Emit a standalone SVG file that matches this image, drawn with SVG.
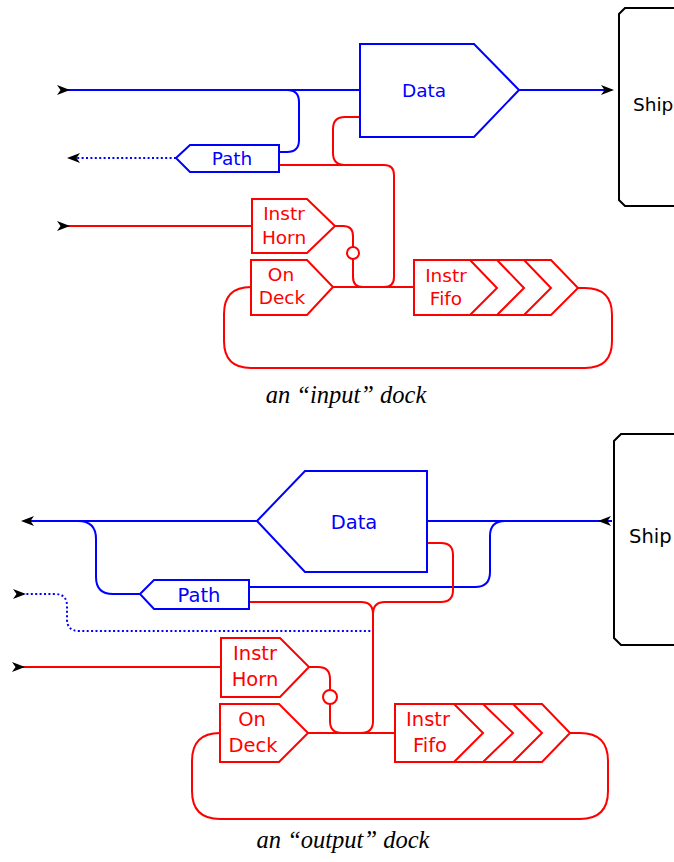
<svg xmlns="http://www.w3.org/2000/svg" xmlns:xlink="http://www.w3.org/1999/xlink" width="674" height="862" viewBox="0 0 674 862">
<defs>
<style>
.b{fill:none;stroke:#0000ff;stroke-width:2}
.r{fill:none;stroke:#ff0000;stroke-width:2}
.k{fill:none;stroke:#000;stroke-width:2}
.d{fill:none;stroke:#0000ff;stroke-width:2;stroke-dasharray:2 2.4}
.nb{fill:#fff;stroke:#0000ff;stroke-width:2}
.nr{fill:#fff;stroke:#ff0000;stroke-width:2}
.tb{font-family:"DejaVu Sans",sans-serif;fill:#0000ff;text-anchor:middle}
.tr{font-family:"DejaVu Sans",sans-serif;fill:#ff0000;text-anchor:middle}
.tk{font-family:"DejaVu Sans",sans-serif;fill:#000}
.s1{font-size:18.5px}
.s2{font-size:19.5px}
.cap{font-family:"Liberation Serif",serif;font-style:italic;font-size:24.5px;fill:#000;text-anchor:middle}
</style>
<path id="ah" d="M0,0 L-13,-5 L-9.5,0 L-13,5 Z" fill="#000"/>
</defs>

<!-- ===== input dock ===== -->
<g id="connectors-input">
<path class="b" d="M66,90 H360"/>
<path class="b" d="M287,90 Q299,90 299,102 V140 Q299,152 287,152 H279"/>
<path class="b" d="M519,90 H612"/>
<path class="d" d="M176,158 H72"/>
<path class="r" d="M66,226 H252"/>
<path class="r" d="M335,226 H343 Q353,226 353,236 V247"/>
<circle class="r" cx="353" cy="253" r="6"/>
<path class="r" d="M353,259 V277 Q353,287 363,287"/>
<path class="r" d="M333,287 H414"/>
<path class="r" d="M279,165 H384 Q394,165 394,175 V277 Q394,287 384,287"/>
<path class="r" d="M360,117 H345 Q333,117 333,129 V153 Q333,165 345,165"/>
<path class="r" d="M251,287 Q224,287 224,314 V341 Q224,368 251,368 H585 Q612,368 612,341 V315 Q612,288 585,288 H578"/>
<use xlink:href="#ah" transform="translate(70,90)"/>
<use xlink:href="#ah" transform="translate(67,158) rotate(180)"/>
<use xlink:href="#ah" transform="translate(70,226)"/>
<use xlink:href="#ah" transform="translate(614,90)"/>
</g>

<g id="data-in">
<polygon class="nb" points="360,44 474,44 519,90 474,137 360,137"/>
<text class="tb s1" x="424" y="97">Data</text>
</g>
<g id="path-in">
<polygon class="nb" points="176,158 190,145 279,145 279,172 190,172"/>
<text class="tb s1" x="232" y="165">Path</text>
</g>
<g id="horn-in">
<polygon class="nr" points="252,199 307,199 335,226 307,253 252,253"/>
<text class="tr s1" x="284" y="220">Instr</text>
<text class="tr s1" x="284" y="244">Horn</text>
</g>
<g id="ondeck-in">
<polygon class="nr" points="251,260 307,260 333,287 307,315 251,315"/>
<text class="tr s1" x="281" y="281">On</text>
<text class="tr s1" x="282" y="304">Deck</text>
</g>
<g id="fifo-in">
<polygon class="nr" points="414,260 551,260 578,288 551,315 414,315"/>
<path class="r" d="M470,260 L497,288 L470,315 M497,260 L524,288 L497,315 M524,260 L551,288 L524,315"/>
<text class="tr s1" x="446" y="282">Instr</text>
<text class="tr s1" x="446" y="305">Fifo</text>
</g>
<g id="ship-in">
<path class="k" d="M680,8 H625 L619,14 V200 L625,206 H680"/>
<text class="tk s1" x="633" y="111">Ship</text>
</g>
<text class="cap" x="346" y="403">an “input” dock</text>

<!-- ===== output dock ===== -->
<g id="connectors-output">
<path class="b" d="M30,521 H257"/>
<path class="b" d="M78,521 Q96,521 96,539 V577 Q96,594 113,594 H140"/>
<path class="b" d="M427,521 H612"/>
<path class="b" d="M249,587 H475 Q490,587 490,572 V536 Q490,521 505,521"/>
<path class="d" d="M22,594 H55 Q67,594 67,606 V619 Q67,631 79,631 H372"/>
<path class="r" d="M21,667 H221"/>
<path class="r" d="M309,667 H318 Q330,667 330,679 V690"/>
<circle class="r" cx="330" cy="697" r="7"/>
<path class="r" d="M330,704 V721 Q330,733 342,733"/>
<path class="r" d="M308,733 H395"/>
<path class="r" d="M249,602 H361 Q373,602 373,614 V721 Q373,733 361,733"/>
<path class="r" d="M427,543 H441 Q453,543 453,555 V590 Q453,602 441,602 H385 Q373,602 373,614"/>
<path class="r" d="M220,733 Q192,733 192,761 V791 Q192,819 220,819 H580 Q608,819 608,791 V761 Q608,733 580,733 H570"/>
<use xlink:href="#ah" transform="translate(21,521) rotate(180)"/>
<use xlink:href="#ah" transform="translate(26,594)"/>
<use xlink:href="#ah" transform="translate(25,667)"/>
<use xlink:href="#ah" transform="translate(598,521) rotate(180)"/>
</g>

<g id="data-out">
<polygon class="nb" points="257,521 305,471 427,471 427,572 305,572"/>
<text class="tb s2" x="354" y="529">Data</text>
</g>
<g id="path-out">
<polygon class="nb" points="140,594 154,580 249,580 249,609 154,609"/>
<text class="tb s2" x="199" y="602">Path</text>
</g>
<g id="horn-out">
<polygon class="nr" points="221,638 280,638 309,667 280,697 221,697"/>
<text class="tr s2" x="255" y="660">Instr</text>
<text class="tr s2" x="255" y="686">Horn</text>
</g>
<g id="ondeck-out">
<polygon class="nr" points="220,704 279,704 308,733 279,762 220,762"/>
<text class="tr s2" x="252" y="726">On</text>
<text class="tr s2" x="253" y="752">Deck</text>
</g>
<g id="fifo-out">
<polygon class="nr" points="395,704 542,704 570,733 542,762 395,762"/>
<path class="r" d="M454,704 L483,733 L454,762 M483,704 L513,733 L483,762 M513,704 L542,733 L513,762"/>
<text class="tr s2" x="428" y="726">Instr</text>
<text class="tr s2" x="430" y="752">Fifo</text>
</g>
<g id="ship-out">
<path class="k" d="M680,434 H621 L614,441 V638 L621,645 H680"/>
<text class="tk s2" x="629" y="543">Ship</text>
</g>
<text class="cap" x="343" y="848">an “output” dock</text>
</svg>
